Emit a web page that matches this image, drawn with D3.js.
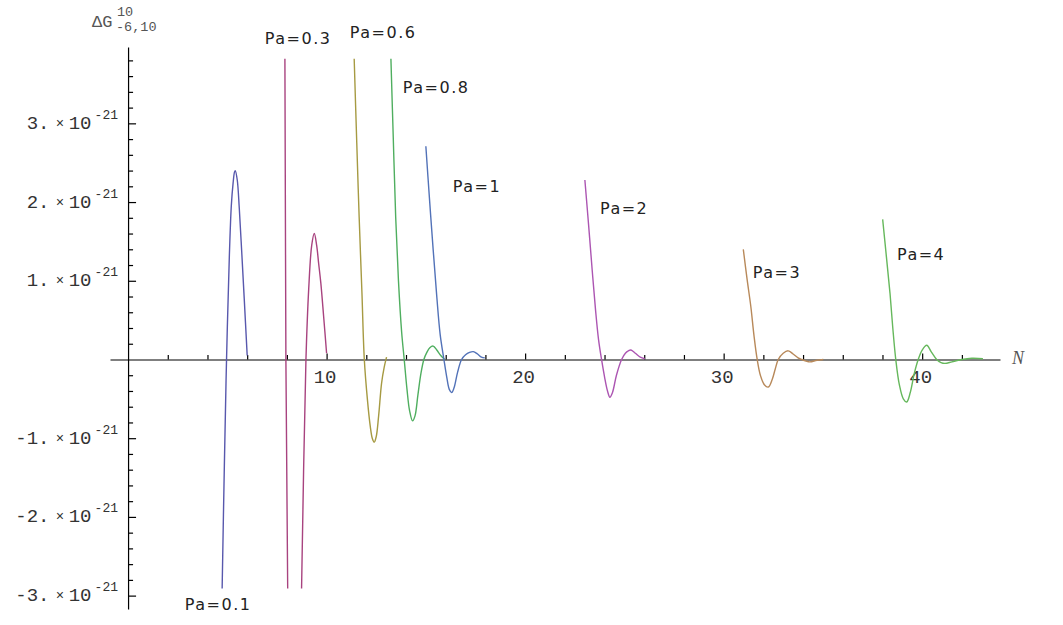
<!DOCTYPE html>
<html>
<head>
<meta charset="utf-8">
<script src="https://cdn.jsdelivr.net/npm/d3@7"></script>
<style>
  body { margin: 0; background: #fff; }
  text { font-family: "Liberation Mono", "DejaVu Sans Mono", monospace; fill: #333; }
  .pa { font-family: "DejaVu Sans", sans-serif; font-size: 16px; letter-spacing: 1.5px; fill: #222; }
  .nlab { font-family: "Liberation Serif", serif; font-style: italic; font-size: 18px; fill: #555; }
</style>
</head>
<body>
<div id="chartDiv"></div>
<script>
// values are in units of 1e-21, N along x
var pa01 = [[4.68, -3.8], [4.74, -2.89], [4.85, -1.35], [4.96, 0], [5.10, 1.3], [5.20, 1.95], [5.29, 2.24],
  [5.36, 2.38], [5.40, 2.40], [5.50, 2.28], [5.60, 1.93], [5.72, 1.39], [5.85, 0.78], [6.00, 0.05]];
var pa03 = [[7.84, 5.5], [7.90, 3.83], [7.95, 0], [8.04, -2.9], [8.10, -5.0], [8.40, -7.5], [8.62, -5.5],
  [8.74, -2.9], [8.85, -1.3], [8.96, 0], [9.10, 0.9], [9.25, 1.45], [9.38, 1.60], [9.50, 1.45],
  [9.60, 1.22], [9.71, 0.97], [9.85, 0.55], [10.0, 0.08]];
var pa06 = [[11.30, 4.6], [11.39, 3.82], [11.52, 2.75], [11.64, 1.81], [11.78, 0.85], [11.90, 0],
  [12.06, -0.52], [12.20, -0.85], [12.30, -1.00], [12.40, -1.05], [12.50, -0.98], [12.62, -0.72],
  [12.77, -0.30], [12.90, -0.10], [13.02, 0.03]];
var pa08 = [[13.15, 4.6], [13.24, 3.82], [13.36, 2.8], [13.48, 1.81], [13.62, 1.0], [13.78, 0.35], [13.91, 0],
  [14.05, -0.38], [14.18, -0.65], [14.33, -0.78], [14.45, -0.72], [14.60, -0.45], [14.75, -0.18],
  [14.90, 0], [15.05, 0.09], [15.20, 0.15], [15.37, 0.17], [15.55, 0.12], [15.75, 0.05], [15.95, 0]];
var pa1 = [[15.00, 2.71], [15.18, 2.05], [15.37, 1.39], [15.55, 0.80], [15.72, 0.32], [15.91, 0],
  [16.05, -0.22], [16.18, -0.38], [16.30, -0.42], [16.42, -0.36], [16.60, -0.16], [16.80, 0],
  [17.00, 0.06], [17.20, 0.09], [17.39, 0.10], [17.60, 0.07], [17.80, 0.03], [17.97, 0.02]];
var pa2 = [[23.01, 2.28], [23.20, 1.70], [23.38, 1.13], [23.55, 0.62], [23.70, 0.25], [23.85, 0],
  [24.00, -0.22], [24.15, -0.40], [24.27, -0.48], [24.40, -0.42], [24.60, -0.20], [24.86, 0],
  [25.05, 0.08], [25.20, 0.11], [25.33, 0.12], [25.55, 0.08], [25.80, 0.03], [26.03, 0.01]];
var pa3 = [[30.99, 1.40], [31.18, 1.02], [31.37, 0.67], [31.53, 0.30], [31.69, 0], [31.85, -0.20],
  [32.05, -0.32], [32.25, -0.35], [32.45, -0.25], [32.60, -0.12], [32.75, 0], [33.00, 0.08],
  [33.25, 0.11], [33.50, 0.07], [33.75, 0.02], [33.93, 0], [34.15, -0.02], [34.35, -0.03],
  [34.70, -0.01], [35.02, 0]];
var pa4 = [[38.01, 1.78], [38.20, 1.30], [38.38, 0.84], [38.52, 0.40], [38.67, 0], [38.85, -0.32],
  [39.05, -0.50], [39.22, -0.54], [39.40, -0.42], [39.60, -0.18], [39.80, 0], [40.00, 0.12],
  [40.23, 0.18], [40.45, 0.10], [40.73, 0], [40.95, -0.04], [41.15, -0.05], [41.50, -0.03],
  [42.00, 0], [42.50, 0.015], [43.06, 0.01]];

var seriesNames = ["Pa=0.1", "Pa=0.3", "Pa=0.6", "Pa=0.8", "Pa=1", "Pa=2", "Pa=3", "Pa=4"];
var seriesData = [pa01, pa03, pa06, pa08, pa1, pa2, pa3, pa4];
var xTickLabels = [10, 20, 30, 40];
var yTickLabels = [3, 2, 1, -1, -2, -3];

// label anchors (data coords) and line colours
var labelAt = [[2.86, -3.11], [6.89, 4.08], [11.17, 4.16], [13.84, 3.45], [16.36, 2.20], [23.77, 1.92], [31.47, 1.11], [38.73, 1.33]];
var colors = ["#5858ad", "#a8437f", "#a69a42", "#4fae5f", "#5272b8", "#ac55b2", "#b8895a", "#66b85c"];

var svg = d3.select("#chartDiv").append("svg")
  .attr("width", 1063)
  .attr("height", 625);

var x = d3.scaleLinear().domain([-0.91, 43.92]).range([110, 1000]);
var y = d3.scaleLinear().domain([-3.17, 3.97]).range([609, 47]);

// clip like the plot range
svg.append("clipPath").attr("id", "clip")
  .append("rect")
  .attr("x", 0).attr("width", 1063)
  .attr("y", y(3.82)).attr("height", y(-2.91) - y(3.82));

//Axes
var xMinor = d3.range(2, 43, 2).filter(function (d) { return d % 10 != 0; });
var yMinor = d3.range(-15, 20).map(function (d) { return d / 5; }).filter(function (d) { return d % 1 != 0; });

var xa = svg.append("g").attr("transform", "translate(0," + y(0) + ")");
xa.call(d3.axisBottom(x).tickValues(xMinor).tickSizeInner(-4.5).tickSizeOuter(0).tickFormat(""));
xa.append("g").call(d3.axisBottom(x).tickValues(xTickLabels).tickSizeInner(-6).tickSizeOuter(0).tickPadding(10));

var ya = svg.append("g").attr("transform", "translate(" + x(0) + ",0)");
ya.call(d3.axisRight(y).tickValues(yMinor).tickSizeInner(5).tickSizeOuter(0).tickFormat(""));
ya.append("g").call(d3.axisRight(y).tickValues(yTickLabels).tickSizeInner(8).tickSizeOuter(0).tickFormat(""));

svg.selectAll(".domain, .tick line").attr("stroke", "#000").attr("stroke-width", 1.2);
xa.selectAll("g g .domain").remove();
ya.selectAll("g g .domain").remove();
xa.selectAll("text")
  .attr("font-size", 19)
  .attr("dx", -2);

// y labels like 3. x10^-21
var yl = svg.selectAll("g.ylab")
  .data(yTickLabels)
  .enter().append("g")
  .attr("class", "ylab")
  .attr("transform", function (d) { return "translate(0," + y(d) + ")"; });
yl.append("text").attr("x", 49.5).attr("y", 5.5).attr("text-anchor", "end").attr("font-size", 19)
  .text(function (d) { return d + "."; });
yl.append("text").attr("x", 60).attr("y", 4.5).attr("text-anchor", "middle").attr("font-size", 14)
  .text("\u00d7");
yl.append("text").attr("x", 91.5).attr("y", 5.5).attr("text-anchor", "end").attr("font-size", 19)
  .text("10");
yl.append("text").attr("x", 118).attr("y", -4.5).attr("text-anchor", "end").attr("font-size", 13)
  .text("-21");

// axis titles
svg.append("text").attr("x", 92).attr("y", 27).attr("font-size", 17).style("fill", "#555").text("\u0394G");
svg.append("text").attr("x", 117).attr("y", 16).attr("font-size", 13.5).style("fill", "#555").text("10");
svg.append("text").attr("x", 116).attr("y", 31).attr("font-size", 13.5).style("fill", "#555").text("-6,10");
svg.append("text")
  .attr("class", "nlab")
  .attr("x", 1012).attr("y", 364)
  .text("N");

//Curves
var line = d3.line()
  .x(function (d) { return x(d[0]); })
  .y(function (d) { return y(d[1]); })
  .curve(d3.curveCatmullRom.alpha(0.5));

svg.append("g").attr("clip-path", "url(#clip)")
  .selectAll("path")
  .data(seriesData)
  .enter().append("path")
  .attr("d", line)
  .attr("fill", "none")
  .attr("stroke", function (d, i) { return colors[i]; })
  .attr("stroke-width", 1.4);

//Labels
svg.selectAll("text.pa")
  .data(seriesNames)
  .enter().append("text")
  .attr("class", "pa")
  .attr("x", function (d, i) { return x(labelAt[i][0]); })
  .attr("y", function (d, i) { return y(labelAt[i][1]); })
  .attr("dominant-baseline", "central")
  .text(function (d) { return d; });
</script>
</body>
</html>
